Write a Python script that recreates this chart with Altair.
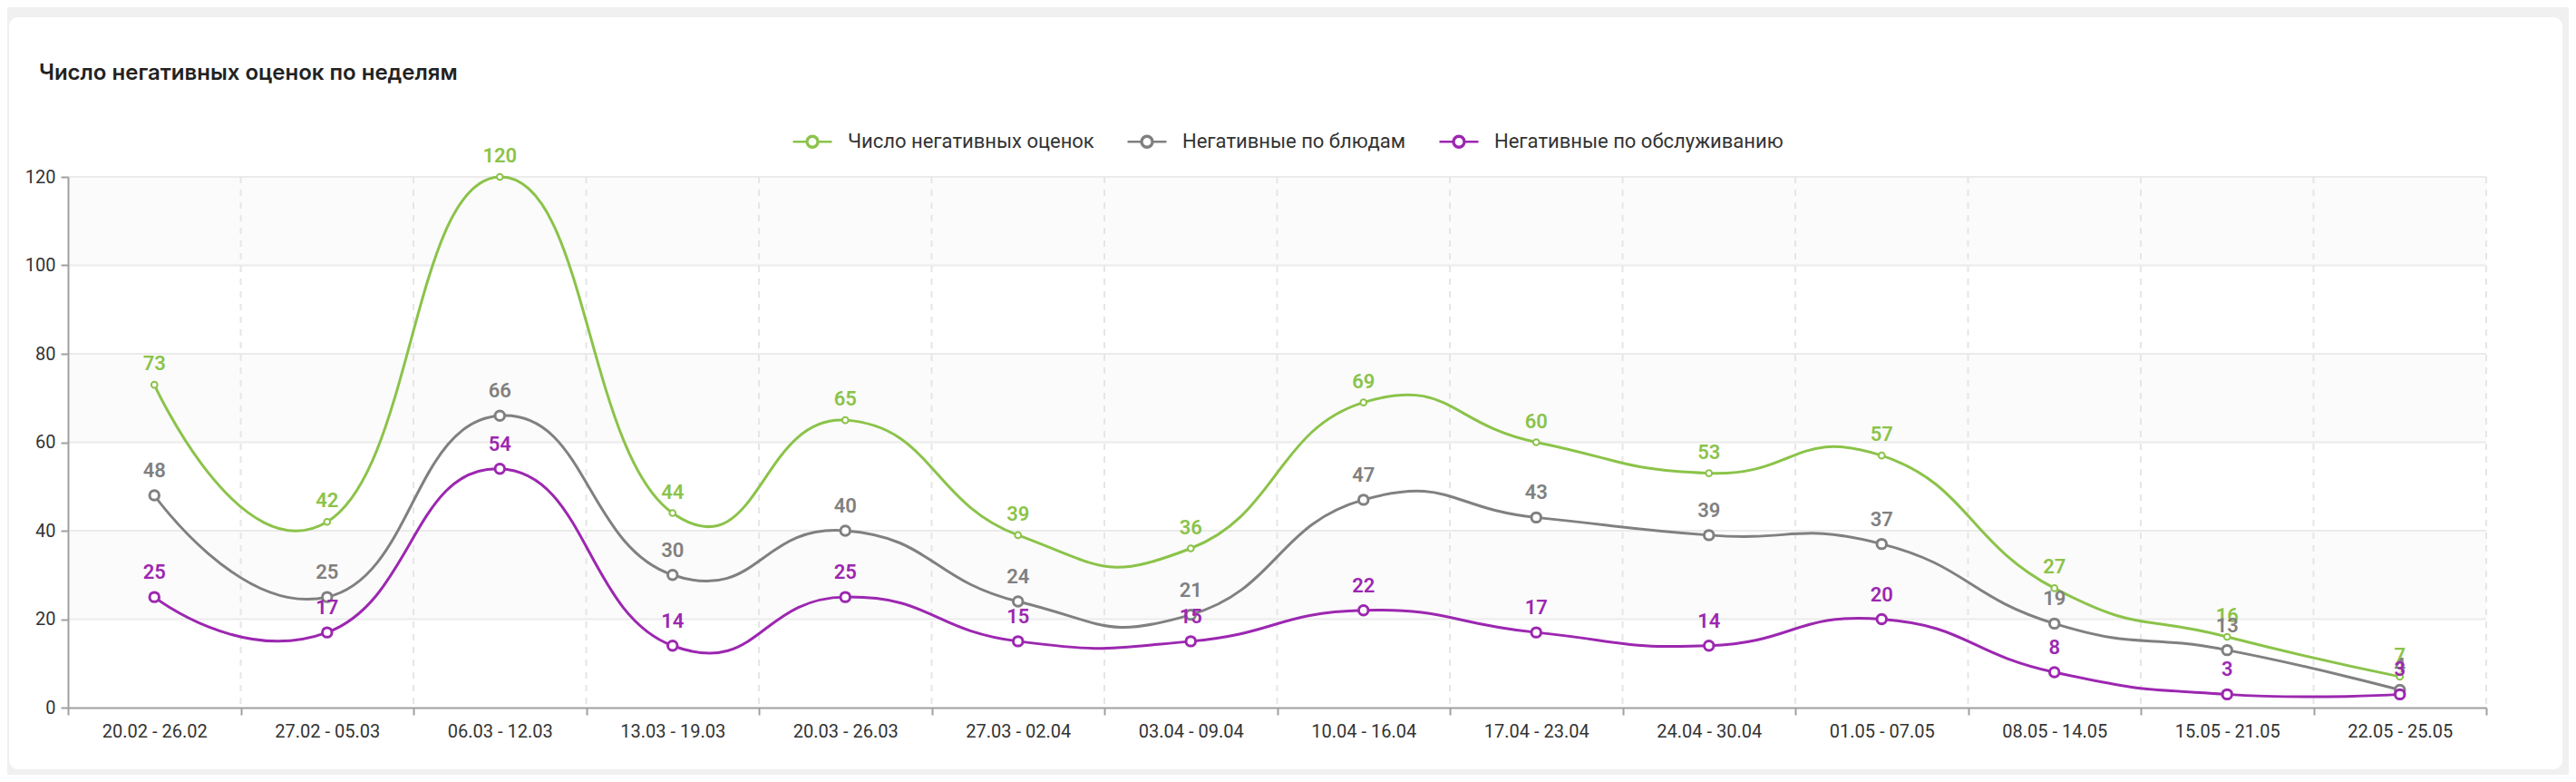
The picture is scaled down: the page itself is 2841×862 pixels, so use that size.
import altair as alt
import pandas as pd

weeks = ["20.02 - 26.02", "27.02 - 05.03", "06.03 - 12.03", "13.03 - 19.03",
         "20.03 - 26.03", "27.03 - 02.04", "03.04 - 09.04", "10.04 - 16.04",
         "17.04 - 23.04", "24.04 - 30.04", "01.05 - 07.05", "08.05 - 14.05",
         "15.05 - 21.05", "22.05 - 25.05"]
series_names = ["Число негативных оценок", "Негативные по блюдам", "Негативные по обслуживанию"]
total = [73, 42, 120, 44, 65, 39, 36, 69, 60, 53, 57, 27, 16, 7]
dishes = [48, 25, 66, 30, 40, 24, 21, 47, 43, 39, 37, 19, 13, 4]
service = [25, 17, 54, 14, 25, 15, 15, 22, 17, 14, 20, 8, 3, 3]
colors = ["#8bc34a", "#808080", "#9c27b0"]
y_ticks = [0, 20, 40, 60, 80, 100, 120]
grid_y = [20, 40, 60, 80, 100, 120]
band_lo = [20, 60, 100]
band_hi = [40, 80, 120]
title_text = "Число негативных оценок по неделям"

W, H = 2667, 585

rows = []
for name, vals in zip(series_names, [total, dishes, service]):
    for w, v in zip(weeks, vals):
        rows.append({"week": w, "series": name, "value": v})
df = pd.DataFrame(rows)

color_scale = alt.Scale(domain=series_names, range=colors)
x_scale = alt.Scale(type="band", domain=weeks, paddingInner=0, paddingOuter=0)
y_scale = alt.Scale(domain=[0, 120], nice=False)

x_axis = alt.Axis(title=None, labelAngle=0, tickBand="extent", grid=False,
                  domainColor="#a0a0a0", tickColor="#a0a0a0", domainWidth=2, tickWidth=2,
                  tickSize=8, labelPadding=8, labelFontSize=20, labelFont="Roboto",
                  labelColor="#333333", zindex=1)
y_axis = alt.Axis(title=None, values=y_ticks, grid=False,
                  domainColor="#a0a0a0", tickColor="#a0a0a0", domainWidth=2, tickWidth=2,
                  tickSize=8, labelPadding=6, labelFontSize=20, labelFont="Roboto",
                  labelColor="#333333", zindex=1)

X = alt.X("week:N", sort=weeks, scale=x_scale, axis=x_axis)
Y = alt.Y("value:Q", scale=y_scale, axis=y_axis)

one = pd.DataFrame({"a": [0]})

card = alt.Chart(one).mark_rect(fill="white", cornerRadius=10).encode(
    x=alt.value(-65), x2=alt.value(2751), y=alt.value(-176), y2=alt.value(653))

title = alt.Chart(pd.DataFrame({"t": [title_text]})).mark_text(
    align="left", baseline="middle", fontSize=24, font="Inter", fontWeight=600,
    color="#222222").encode(x=alt.value(-32), y=alt.value(-114), text="t:N")

bands = alt.Chart(pd.DataFrame({"lo": band_lo, "hi": band_hi})).mark_rect(fill="#fbfbfb").encode(
    x=alt.value(0), x2=alt.value(W),
    y=alt.Y("lo:Q", scale=y_scale, axis=y_axis), y2="hi:Q")

hgrid = alt.Chart(pd.DataFrame({"g": grid_y})).mark_rule(color="#ebebeb", strokeWidth=2).encode(
    y=alt.Y("g:Q", scale=y_scale, axis=y_axis))

vgrid = alt.Chart(pd.DataFrame({"week": weeks[1:]})).mark_rule(
    color="#e6e6e6", strokeWidth=2, strokeDash=[7, 7]).encode(
    x=alt.X("week:N", sort=weeks, scale=x_scale, axis=x_axis, bandPosition=0))
vgrid_end = alt.Chart(pd.DataFrame({"week": weeks[-1:]})).mark_rule(
    color="#e6e6e6", strokeWidth=2, strokeDash=[7, 7]).encode(
    x=alt.X("week:N", sort=weeks, scale=x_scale, axis=x_axis, bandPosition=1))

# line through a ring (inner circle wound the other way, so the centre stays hollow)
legend_path = ("M-1,0L-0.3,0M0.3,0L1,0"
               "M0.3,0A0.3,0.3,0,1,1,-0.3,0A0.3,0.3,0,1,1,0.3,0Z"
               "M0.26,0A0.26,0.26,0,1,0,-0.26,0A0.26,0.26,0,1,0,0.26,0Z")
legend = alt.Legend(orient="none", legendX=798, legendY=-62, direction="horizontal",
                    title=None, symbolType=legend_path, symbolSize=1849,
                    symbolStrokeWidth=2.5,
                    labelFontSize=22, labelFont="Roboto", labelColor="#333333",
                    labelLimit=0, columnPadding=31, labelOffset=16)

base = alt.Chart(df)

lines = base.mark_line(interpolate="cardinal", tension=-0.5, strokeWidth=3).encode(
    x=X, y=Y,
    color=alt.Color("series:N", scale=color_scale, legend=legend, sort=series_names),
    detail="series:N")

point_layers = []
label_layers = []
for name, sz, sw, dy in zip(series_names, [45, 110, 110], [2, 3, 3], [-16, -20, -20]):
    sub = base.transform_filter(alt.datum.series == name)
    point_layers.append(sub.mark_point(shape="circle", filled=True, fill="white",
                                       opacity=1, size=sz, strokeWidth=sw).encode(
        x=X, y=Y, stroke=alt.Stroke("series:N", scale=color_scale, legend=None)))
    label_layers.append(sub.mark_text(dy=dy, baseline="alphabetic", fontSize=22,
                                      font="Roboto", fontWeight=600).encode(
        x=X, y=Y, text="value:Q",
        fill=alt.Fill("series:N", scale=color_scale, legend=None)))

chart = alt.layer(card, title, bands, hgrid, vgrid, vgrid_end, lines,
                  *point_layers, *label_layers).properties(
    width=W, height=H,
    autosize=alt.AutoSizeParams(type="none"),
    padding={"left": 67, "top": 187, "right": 91, "bottom": 74},
).configure(background="#f0f0f0").configure_view(strokeWidth=0)

chart.save("out.html", embed_options={"renderer": "svg", "actions": False})
